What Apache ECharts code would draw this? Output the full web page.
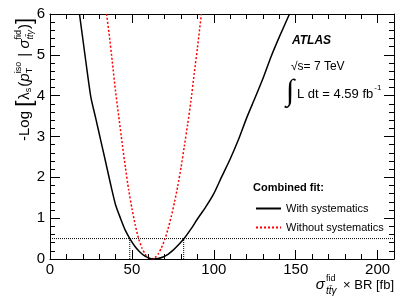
<!DOCTYPE html>
<html><head><meta charset="utf-8">
<script src="https://cdn.jsdelivr.net/npm/echarts@6/dist/echarts.min.js"></script>
<style>html,body{margin:0;padding:0;background:#fff}#c{width:415px;height:298px}</style>
</head><body><div id="c"></div>
<script>
// ---------- data ----------
const xMin = 0, xMax = 210, xMajor = 50, xMinor = 10;
const yMin = 0, yMax = 6, yMajor = 1;
const xTickLabels = [0, 50, 100, 150, 200];
const yTickLabels = [0, 1, 2, 3, 4, 5, 6];

const withSystX = [18,20,22,25,28,31,34,37,40,43,46,49,52,55,58,61,63.5,66,69,72,75,78,82,86,90,95,100,105,110,115,120,125,130,135,140,146.2];
const withSystY = [6.0,5.4,4.8,3.95,3.43,2.9,2.37,1.83,1.33,1.0,0.7,0.48,0.30,0.166,0.07,0.014,0,0.01,0.048,0.115,0.21,0.33,0.51,0.73,0.98,1.27,1.6,2.03,2.45,2.92,3.45,3.93,4.42,4.96,5.44,6.0];

const noSystX = [34.5,36,38,40,42,44,46,48,50,52,54,56,58,60,62,64,66,68,70,72,74,76,78,80,82,84,86,88,90,92.4];
const noSystY = [6.0,5.54,4.84,4.11,3.48,2.85,2.25,1.7,1.24,0.84,0.51,0.28,0.125,0.031,0,0.03,0.12,0.27,0.47,0.73,1.04,1.39,1.79,2.24,2.76,3.29,3.86,4.53,5.17,6.0];

const nllLevel = [0.5];
const intervalEdges = [48.7, 81.6];

const seriesNames = ['With systematics', 'Without systematics'];
// ---------------------------------------------------

const FF = '"Liberation Sans", Arial, Helvetica, sans-serif';
const ctx = document.createElement('canvas').getContext('2d');
function fontStr(size, style, weight, family){ return (style||'normal')+' '+(weight||'normal')+' '+size+'px '+(family||FF); }
function measure(t, size, style, weight, family){ ctx.font = fontStr(size, style, weight, family); return ctx.measureText(t).width; }
function txt(x, y, text, size, o){
  o = o || {};
  return {type:'text', x:x, y:y, silent:true, z:100,
    style:{text:text, fill:'#000', font:fontStr(size, o.style, o.weight, o.family),
      textAlign:o.align||'left', textVerticalAlign:o.va||'middle'}};
}
function seq(pieces){
  let x = 0; const kids = [];
  pieces.forEach(function(p){
    if (p.stack){
      const a = measure(p.sup, p.size, p.supStyle), b = measure(p.sub, p.subSize||p.size, p.subStyle);
      kids.push(txt(x, p.supDy, p.sup, p.size, {style:p.supStyle}));
      kids.push(txt(x, p.subDy, p.sub, p.subSize||p.size, {style:p.subStyle}));
      x += Math.max(a, b) + (p.pad||0);
    } else {
      kids.push(txt(x, p.dy||0, p.t, p.size, {style:p.style, family:p.family}));
      x += measure(p.t, p.size, p.style, 'normal', p.family) + (p.pad||0);
    }
  });
  return {kids:kids, width:x};
}

const yTitle = seq([
  {t:'-Log ', size:15},
  {t:'[', size:22, pad:1},
  {t:'λ', size:15},
  {t:'s', size:9, dy:4, pad:1},
  {t:'(', size:15},
  {t:'p', size:15, style:'italic'},
  {stack:true, sup:'iso', sub:'T', size:9, supDy:-6, subDy:5, pad:1},
  {t:' | ', size:15},
  {t:'σ', size:15, style:'italic'},
  {stack:true, sup:'fid', sub:'tt̄γ', size:9, supDy:-6, subDy:5, subStyle:'italic', pad:1},
  {t:')', size:15},
  {t:']', size:22}
]);
const xTitle = seq([
  {t:'σ', size:15, style:'italic', pad:1},
  {stack:true, sup:'fid', sub:'tt̄γ', size:9, subSize:10, supDy:-6, subDy:6, subStyle:'italic', pad:3},
  {t:' × BR [fb]', size:13}
]);
const lumiText = 'L dt = 4.59 fb';
const lumiW = measure(lumiText, 13);

const graphics = [
  {type:'group', x:25, y:141, rotation:Math.PI/2, children:yTitle.kids},
  {type:'group', x:394 - xTitle.width, y:285, children:xTitle.kids},
  txt(292, 41, 'ATLAS', 12, {style:'italic', weight:'bold'}),
  txt(291, 67, '√s= 7 TeV', 12),
  txt(286, 92, '∫', 30, {family:'"Liberation Serif", serif'}),
  txt(297, 94, lumiText, 13),
  txt(297 + lumiW + 1, 88, '-1', 8),
  txt(253, 188, 'Combined fit:', 11, {weight:'bold'})
];

const lineCol = '#000';
function axisBase(){
  return {
    type:'value', axisLine:{show:true, onZero:false, lineStyle:{color:lineCol, width:1}},
    splitLine:{show:false}, minorSplitLine:{show:false}
  };
}
const xAxes = [
  Object.assign(axisBase(), {position:'bottom', min:xMin, max:xMax, interval:xMajor,
    axisTick:{show:true, inside:true, length:9, lineStyle:{color:lineCol}},
    axisLabel:{show:true, color:'#000', fontSize:15, fontFamily:FF, margin:3, showMaxLabel:false,
      formatter:function(v){ return xTickLabels.indexOf(v) >= 0 ? String(v) : ''; }}}),
  Object.assign(axisBase(), {position:'bottom', min:xMin, max:xMax, interval:xMinor,
    axisLine:{show:false, onZero:false}, axisLabel:{show:false},
    axisTick:{show:true, inside:true, length:5, lineStyle:{color:lineCol}}}),
  Object.assign(axisBase(), {position:'top', min:xMin, max:xMax, interval:xMajor,
    axisTick:{show:true, inside:true, length:9, lineStyle:{color:lineCol}}, axisLabel:{show:false}}),
  Object.assign(axisBase(), {position:'top', min:xMin, max:xMax, interval:xMinor,
    axisLine:{show:false, onZero:false}, axisLabel:{show:false},
    axisTick:{show:true, inside:true, length:5, lineStyle:{color:lineCol}}})
];
const yAxes = [
  Object.assign(axisBase(), {position:'left', min:yMin, max:yMax, interval:yMajor,
    axisTick:{show:true, inside:true, length:10, lineStyle:{color:lineCol}},
    minorTick:{show:true, splitNumber:5, length:5, lineStyle:{color:lineCol}},
    axisLabel:{show:true, color:'#000', fontSize:15, fontFamily:FF, margin:5,
      formatter:function(v){ return yTickLabels.indexOf(v) >= 0 ? String(v) : ''; }}}),
  Object.assign(axisBase(), {position:'right', min:yMin, max:yMax, interval:yMajor,
    axisTick:{show:true, inside:true, length:10, lineStyle:{color:lineCol}},
    minorTick:{show:true, splitNumber:5, length:5, lineStyle:{color:lineCol}},
    axisLabel:{show:false}})
];

function pairs(xs, ys){ return xs.map(function(x,i){ return [x, ys[i]]; }); }
const guideStyle = {color:'#000', width:1, type:[1,1]};

const option = {
  animation:false,
  backgroundColor:'#fff',
  grid:{left:50, right:21, top:14, bottom:39, containLabel:false},
  xAxis:xAxes,
  yAxis:yAxes,
  legend:{left:255, top:203, padding:0, orient:'vertical', itemWidth:25, itemHeight:12, itemGap:8,
    itemStyle:{opacity:0, borderWidth:0},
    textStyle:{fontSize:11, color:'#000', fontFamily:FF}, data:seriesNames},
  graphic:graphics,
  series:[
    {type:'line', name:'guide-h', data:[[xMin, nllLevel[0]], [xMax, nllLevel[0]]], showSymbol:false, symbol:'none',
      lineStyle:guideStyle, silent:true, z:1},
    {type:'line', name:'guide-l', data:[[intervalEdges[0], 0], [intervalEdges[0], nllLevel[0]]], showSymbol:false, symbol:'none',
      lineStyle:guideStyle, silent:true, z:1},
    {type:'line', name:'guide-r', data:[[intervalEdges[1], 0], [intervalEdges[1], nllLevel[0]]], showSymbol:false, symbol:'none',
      lineStyle:guideStyle, silent:true, z:1},
    {type:'line', name:seriesNames[0], data:pairs(withSystX, withSystY), showSymbol:false, symbol:'none', smooth:0.2,
      lineStyle:{color:'#000', width:1.5}, itemStyle:{color:'#000'}, clip:true, z:3},
    {type:'line', name:seriesNames[1], data:pairs(noSystX, noSystY), showSymbol:false, symbol:'none', smooth:0.2,
      lineStyle:{color:'#ff0000', width:1.5, type:[2,2]}, itemStyle:{color:'#ff0000'}, clip:true, z:2}
  ]
};
const chart = echarts.init(document.getElementById('c'), null, {renderer:'canvas'});
chart.setOption(option);
</script>
</body></html>
